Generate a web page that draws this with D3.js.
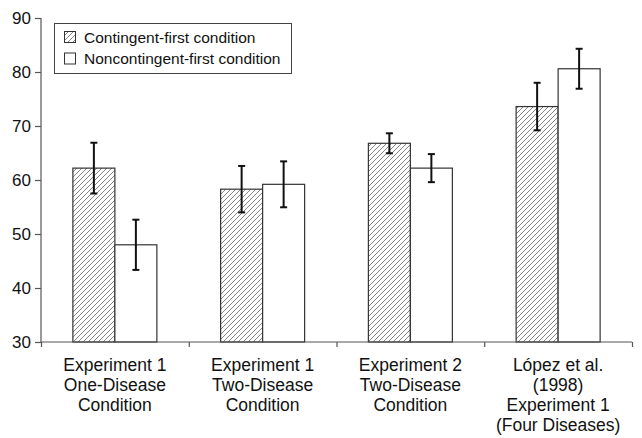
<!DOCTYPE html>
<html>
<head>
<meta charset="utf-8">
<script src="https://cdn.jsdelivr.net/npm/d3@7"></script>
<style>
  html, body { margin: 0; padding: 0; background: #fff; }
  svg { display: block; font-family: "Liberation Sans", Arial, Helvetica, sans-serif; }
</style>
</head>
<body>
<svg id="chart" width="642" height="438"></svg>
<script>
// ---- data ----
const categories = [
  ["Experiment 1", "One-Disease", "Condition"],
  ["Experiment 1", "Two-Disease", "Condition"],
  ["Experiment 2", "Two-Disease", "Condition"],
  ["López et al.", "(1998)", "Experiment 1", "(Four Diseases)"]
];
const seriesNames = ["Contingent-first condition", "Noncontingent-first condition"];
const contingentMeans = [62.2, 58.3, 66.8, 73.6];
const contingentErr   = [4.7, 4.3, 1.85, 4.4];
const noncontingentMeans = [48.0, 59.2, 62.2, 80.6];
const noncontingentErr   = [4.65, 4.25, 2.6, 3.7];
const yTicks = [30, 40, 50, 60, 70, 80, 90];

(function () {
const means = [contingentMeans, noncontingentMeans];
const errs = [contingentErr, noncontingentErr];

const svg = d3.select("#chart");
const mLeft = 41, mRight = 632, mTop = 18, mBottom = 342;

const defs = svg.append("defs");
const pat = defs.append("pattern")
  .attr("id", "hatch").attr("patternUnits", "userSpaceOnUse")
  .attr("width", 5).attr("height", 5);
pat.append("rect").attr("width", 5).attr("height", 5).attr("fill", "#fff");
pat.append("path").attr("d", "M-1,1 l2,-2 M0,5 l5,-5 M4,6 l2,-2")
  .attr("stroke", "#666").attr("stroke-width", 0.8);

const catIdx = d3.range(categories.length);
const x0 = d3.scaleBand().domain(catIdx).range([mLeft, mRight]).padding(0);
const x1 = d3.scaleBand().domain([0, 1]).range([0, x0.bandwidth()]).paddingInner(0).paddingOuter(0.759);
const y = d3.scaleLinear().domain([30, 90]).range([mBottom, mTop]);

// bars
const data = [];
catIdx.forEach(c => [0, 1].forEach(s => data.push({c, s, v: means[s][c], e: errs[s][c]})));

svg.append("g").selectAll("rect").data(data).join("rect")
  .attr("x", d => x0(d.c) + x1(d.s))
  .attr("y", d => y(d.v))
  .attr("width", x1.bandwidth())
  .attr("height", d => y(30) - y(d.v))
  .attr("fill", d => d.s === 0 ? "url(#hatch)" : "#fff")
  .attr("stroke", "#333").attr("stroke-width", 1.2);

// error bars
const eg = svg.append("g").attr("stroke", "#111").attr("stroke-width", 2);
data.forEach(d => {
  const cx = x0(d.c) + x1(d.s) + x1.bandwidth() / 2;
  eg.append("line").attr("x1", cx).attr("x2", cx).attr("y1", y(d.v + d.e)).attr("y2", y(d.v - d.e));
  eg.append("line").attr("x1", cx - 3.5).attr("x2", cx + 3.5).attr("y1", y(d.v + d.e)).attr("y2", y(d.v + d.e));
  eg.append("line").attr("x1", cx - 3.5).attr("x2", cx + 3.5).attr("y1", y(d.v - d.e)).attr("y2", y(d.v - d.e));
});

// y axis
const yAxis = svg.append("g").attr("transform", `translate(${mLeft},0)`)
  .call(d3.axisLeft(y).tickValues(yTicks).tickSize(6).tickPadding(4).tickFormat(d3.format("d")));
yAxis.select(".domain").attr("stroke", "#555").attr("stroke-width", 1.2).attr("d", `M0,${mTop}V${mBottom}`);
yAxis.selectAll(".tick line").attr("stroke", "#555").attr("stroke-width", 1.2);
yAxis.selectAll(".tick text").attr("font-size", 17).attr("fill", "#111")
  .attr("font-family", "'Liberation Sans', Arial, sans-serif");

// x axis (ticks at category boundaries)
const xEdge = d3.scaleLinear().domain([0, categories.length]).range([mLeft, mRight]);
const xAxis = svg.append("g").attr("transform", `translate(0,${mBottom})`)
  .call(d3.axisBottom(xEdge).tickValues(d3.range(categories.length + 1)).tickSize(5).tickFormat(""));
xAxis.select(".domain").attr("stroke", "#555").attr("stroke-width", 1.2).attr("d", `M${mLeft},0H${mRight}`);
xAxis.selectAll(".tick line").attr("stroke", "#555").attr("stroke-width", 1.2);

// category labels
const lab = svg.append("g");
categories.forEach((lines, c) => {
  const cx = x0(c) + x0.bandwidth() / 2;
  const t = lab.append("text")
    .attr("x", cx).attr("y", 371)
    .attr("text-anchor", "middle")
    .attr("font-size", 17.5).attr("fill", "#111");
  lines.forEach((ln, i) => t.append("tspan").attr("x", cx).attr("y", 371 + i * 20).text(ln));
});

// legend
const lg = svg.append("g");
lg.append("rect").attr("x", 54.5).attr("y", 23.5).attr("width", 237).attr("height", 50)
  .attr("fill", "#fff").attr("stroke", "#444").attr("stroke-width", 1);
seriesNames.forEach((name, i) => {
  const yy = 31.5 + i * 21.5;
  lg.append("rect").attr("x", 64.5).attr("y", yy).attr("width", 11).attr("height", 11)
    .attr("fill", i === 0 ? "url(#hatch)" : "#fff").attr("stroke", "#333").attr("stroke-width", 1);
  lg.append("text").attr("x", 84).attr("y", yy + 11)
    .attr("font-size", 15.5).attr("fill", "#111").text(name);
});
})();
</script>
</body>
</html>
